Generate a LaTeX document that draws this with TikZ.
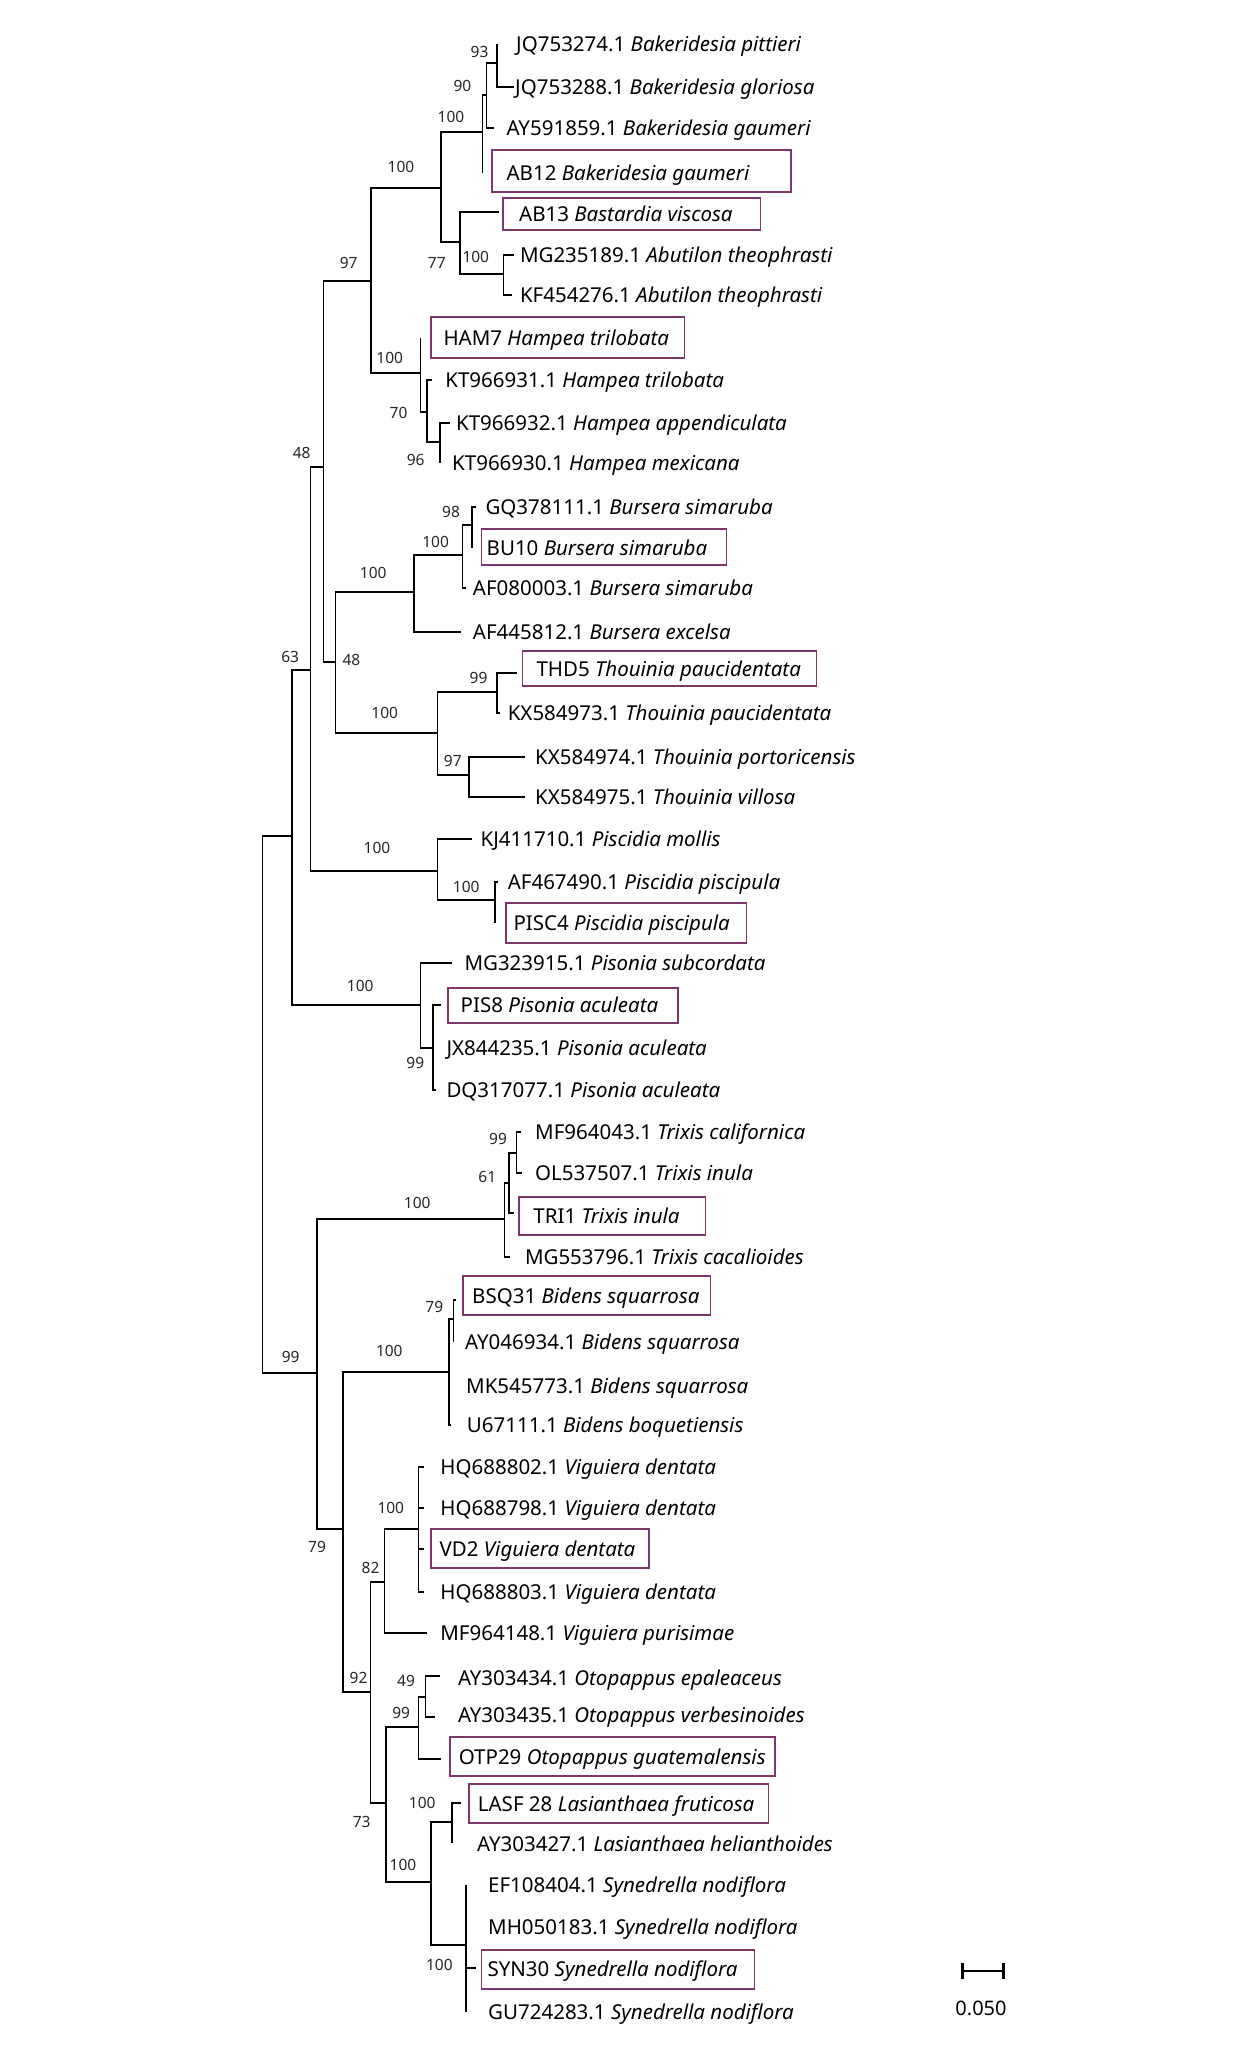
\documentclass[tikz,border=0pt]{standalone}
\usepackage{fontspec}
\setmainfont{Noto Sans}
\definecolor{boxc}{RGB}{125,55,105}
\begin{document}
\begin{tikzpicture}[x=1pt,y=-1pt,
  br/.style={line width=1.5pt},
  leaf/.style={anchor=base west,inner sep=0pt,font=\fontsize{20.5}{24}\selectfont},
  lab/.style={anchor=center,inner sep=0pt,font=\fontsize{15.5}{18}\selectfont,text=black!85},
  hbox/.style={draw=boxc,line width=1.8pt}]
\useasboundingbox (0,0) rectangle (1243,2048);
% internal nodes
\coordinate (R) at (262.5,1104);
\coordinate (N63) at (292,836);
\coordinate (N310) at (310.5,670);
\coordinate (N323) at (323.3,467);
\coordinate (NMalv) at (371,281);
\coordinate (NBak) at (441,188);
\coordinate (N452) at (482.3,132);
\coordinate (N90) at (486.5,95);
\coordinate (N93) at (496.8,63);
\coordinate (N77) at (460,242);
\coordinate (NAbu) at (503.7,274);
\coordinate (NHam) at (420.3,373);
\coordinate (N70) at (427.2,412);
\coordinate (N96) at (440.2,442);
\coordinate (NBT) at (335.5,662);
\coordinate (NBurs) at (413.8,592);
\coordinate (N462) at (462.4,555);
\coordinate (N98) at (472,525);
\coordinate (NThou) at (437.5,733);
\coordinate (N99t) at (496.8,692);
\coordinate (N97t) at (468.9,775);
\coordinate (NPisc) at (437.5,871);
\coordinate (N495) at (495,900);
\coordinate (NPison) at (420.3,1005);
\coordinate (N433) at (433,1048);
\coordinate (N99) at (317,1373);
\coordinate (NTrix) at (504.5,1219);
\coordinate (N61) at (509,1183);
\coordinate (N99x) at (516.7,1153);
\coordinate (N343) at (343,1529);
\coordinate (NBid) at (449,1372);
\coordinate (N79b) at (453.3,1319);
\coordinate (N92) at (370.5,1692);
\coordinate (N82) at (384.7,1582);
\coordinate (NVig) at (418.4,1529);
\coordinate (N73) at (385.9,1803);
\coordinate (NOto) at (418.4,1727);
\coordinate (N49) at (425.3,1697);
\coordinate (N431) at (431,1882);
\coordinate (NLas) at (452,1822);
\coordinate (NSyn) at (466.2,1945);
% tips
\coordinate (t1) at (496.8,44);
\coordinate (t2) at (514,87);
\coordinate (t3) at (494,128);
\coordinate (t4) at (482.3,173);
\coordinate (t5) at (498.7,212);
\coordinate (t6) at (514,255);
\coordinate (t7) at (512,295);
\coordinate (t8) at (420.3,338);
\coordinate (t9) at (431.8,380);
\coordinate (t10) at (449.8,423);
\coordinate (t11) at (440.2,463);
\coordinate (t12) at (476,507);
\coordinate (t13) at (472,548);
\coordinate (t14) at (466.2,588);
\coordinate (t15) at (460.5,632);
\coordinate (t16) at (516.7,673);
\coordinate (t17) at (499.5,713);
\coordinate (t18) at (524.8,757);
\coordinate (t19) at (524.8,797);
\coordinate (t20) at (472,839);
\coordinate (t21) at (498,882);
\coordinate (t22) at (495,923);
\coordinate (t23) at (452,963);
\coordinate (t24) at (441.3,1005);
\coordinate (t25) at (433,1048);
\coordinate (t26) at (436,1090);
\coordinate (t27) at (520.5,1132);
\coordinate (t28) at (521.7,1173);
\coordinate (t29) at (514,1213);
\coordinate (t30) at (510,1257);
\coordinate (t31) at (456,1300);
\coordinate (t32) at (453.3,1341.7);
\coordinate (t33) at (449,1386);
\coordinate (t34) at (451,1425);
\coordinate (t35) at (424.1,1467);
\coordinate (t36) at (424.1,1508);
\coordinate (t37) at (424.1,1549);
\coordinate (t38) at (424.1,1592);
\coordinate (t39) at (426.8,1633);
\coordinate (t40) at (440.2,1676);
\coordinate (t41) at (434.8,1717);
\coordinate (t42) at (441.3,1759);
\coordinate (t43) at (460.5,1803);
\coordinate (t44) at (452,1843);
\coordinate (t45) at (466.2,1885);
\coordinate (t46) at (466.2,1927);
\coordinate (t47) at (475.8,1968);
\coordinate (t48) at (466.2,2012);
% branches
\foreach \p/\c in {R/N63,R/N99,N63/N310,N63/NPison,N310/N323,N310/NPisc,
  N323/NMalv,N323/NBT,NMalv/NBak,NMalv/NHam,NBak/N452,NBak/N77,N452/N90,N452/t4,
  N90/N93,N90/t3,N93/t1,N93/t2,N77/t5,N77/NAbu,NAbu/t6,NAbu/t7,NHam/t8,NHam/N70,
  N70/t9,N70/N96,N96/t10,N96/t11,NBT/NBurs,NBT/NThou,NBurs/N462,NBurs/t15,
  N462/N98,N462/t14,N98/t12,N98/t13,NThou/N99t,NThou/N97t,N99t/t16,N99t/t17,
  N97t/t18,N97t/t19,NPisc/t20,NPisc/N495,N495/t21,N495/t22,NPison/t23,NPison/N433,
  N433/t24,N433/t25,N433/t26,N99/NTrix,N99/N343,NTrix/N61,NTrix/t30,N61/N99x,N61/t29,
  N99x/t27,N99x/t28,N343/NBid,N343/N92,NBid/N79b,NBid/t33,NBid/t34,N79b/t31,N79b/t32,
  N92/N82,N92/N73,N82/NVig,N82/t39,NVig/t35,NVig/t36,NVig/t37,NVig/t38,
  N73/NOto,N73/N431,NOto/N49,NOto/t42,N49/t40,N49/t41,N431/NLas,N431/NSyn,
  NLas/t43,NLas/t44,NSyn/t45,NSyn/t46,NSyn/t47,NSyn/t48}
  \draw[br] (\p) |- (\c);
% highlight boxes
\draw[hbox] (491.9,150) rectangle (791.1,192);
\draw[hbox] (502.6,198) rectangle (760.5,230);
\draw[hbox] (431,317) rectangle (684.4,358);
\draw[hbox] (481.5,529) rectangle (726.4,565);
\draw[hbox] (522.5,651) rectangle (816.4,686);
\draw[hbox] (505.6,903) rectangle (746.4,943);
\draw[hbox] (447.9,988) rectangle (677.8,1023);
\draw[hbox] (519,1197) rectangle (705.4,1235);
\draw[hbox] (463.2,1276) rectangle (710.4,1315);
\draw[hbox] (431,1529) rectangle (648.8,1568);
\draw[hbox] (449.8,1737) rectangle (775,1776);
\draw[hbox] (468.9,1784) rectangle (768.5,1823);
\draw[hbox] (481.5,1950) rectangle (754.4,1989);
% leaf labels
\node[leaf] (l1) at (516,51) {JQ753274.1 \textit{Bakeridesia pittieri}};
\node[leaf] (l2) at (515,94) {JQ753288.1 \textit{Bakeridesia gloriosa}};
\node[leaf] (l3) at (506.4,135) {AY591859.1 \textit{Bakeridesia gaumeri}};
\node[leaf] (l4) at (506.4,180) {AB12 \textit{Bakeridesia gaumeri}};
\node[leaf] (l5) at (519,221) {AB13 \textit{Bastardia viscosa}};
\node[leaf] (l6) at (519.8,262) {MG235189.1 \textit{Abutilon theophrasti}};
\node[leaf] (l7) at (519.8,302) {KF454276.1 \textit{Abutilon theophrasti}};
\node[leaf] (l8) at (443.3,345) {HAM7 \textit{Hampea trilobata}};
\node[leaf] (l9) at (445.2,387) {KT966931.1 \textit{Hampea trilobata}};
\node[leaf] (l10) at (455.9,430) {KT966932.1 \textit{Hampea appendiculata}};
\node[leaf] (l11) at (452,470) {KT966930.1 \textit{Hampea mexicana}};
\node[leaf] (l12) at (485.3,514) {GQ378111.1 \textit{Bursera simaruba}};
\node[leaf] (l13) at (486.5,555) {BU10 \textit{Bursera simaruba}};
\node[leaf] (l14) at (472.7,595) {AF080003.1 \textit{Bursera simaruba}};
\node[leaf] (l15) at (472.7,639) {AF445812.1 \textit{Bursera excelsa}};
\node[leaf] (l16) at (536.3,676) {THD5 \textit{Thouinia paucidentata}};
\node[leaf] (l17) at (507.6,720) {KX584973.1 \textit{Thouinia paucidentata}};
\node[leaf] (l18) at (535,764) {KX584974.1 \textit{Thouinia portoricensis}};
\node[leaf] (l19) at (535,804) {KX584975.1 \textit{Thouinia villosa}};
\node[leaf] (l20) at (480.4,846) {KJ411710.1 \textit{Piscidia mollis}};
\node[leaf] (l21) at (507.6,889) {AF467490.1 \textit{Piscidia piscipula}};
\node[leaf] (l22) at (513.3,930) {PISC4 \textit{Piscidia piscipula}};
\node[leaf] (l23) at (464.3,970) {MG323915.1 \textit{Pisonia subcordata}};
\node[leaf] (l24) at (460.5,1012) {PIS8 \textit{Pisonia aculeata}};
\node[leaf] (l25) at (446.3,1055) {JX844235.1 \textit{Pisonia aculeata}};
\node[leaf] (l26) at (446.3,1097) {DQ317077.1 \textit{Pisonia aculeata}};
\node[leaf] (l27) at (535,1139) {MF964043.1 \textit{Trixis californica}};
\node[leaf] (l28) at (535,1180) {OL537507.1 \textit{Trixis inula}};
\node[leaf] (l29) at (533.2,1223) {TRI1 \textit{Trixis inula}};
\node[leaf] (l30) at (524.8,1264) {MG553796.1 \textit{Trixis cacalioides}};
\node[leaf] (l31) at (472,1303) {BSQ31 \textit{Bidens squarrosa}};
\node[leaf] (l32) at (465,1349) {AY046934.1 \textit{Bidens squarrosa}};
\node[leaf] (l33) at (466,1393) {MK545773.1 \textit{Bidens squarrosa}};
\node[leaf] (l34) at (466.7,1432) {U67111.1 \textit{Bidens boquetiensis}};
\node[leaf] (l35) at (440.2,1474) {HQ688802.1 \textit{Viguiera dentata}};
\node[leaf] (l36) at (440.2,1515) {HQ688798.1 \textit{Viguiera dentata}};
\node[leaf] (l37) at (439.4,1556) {VD2 \textit{Viguiera dentata}};
\node[leaf] (l38) at (440.2,1599) {HQ688803.1 \textit{Viguiera dentata}};
\node[leaf] (l39) at (440.2,1640) {MF964148.1 \textit{Viguiera purisimae}};
\node[leaf] (l40) at (457.8,1685) {AY303434.1 \textit{Otopappus epaleaceus}};
\node[leaf] (l41) at (457.8,1722) {AY303435.1 \textit{Otopappus verbesinoides}};
\node[leaf] (l42) at (458.6,1764) {OTP29 \textit{Otopappus guatemalensis}};
\node[leaf] (l43) at (477.7,1811) {LASF 28 \textit{Lasianthaea fruticosa}};
\node[leaf] (l44) at (477,1851) {AY303427.1 \textit{Lasianthaea helianthoides}};
\node[leaf] (l45) at (488,1892) {EF108404.1 \textit{Synedrella nodiflora}};
\node[leaf] (l46) at (488,1934) {MH050183.1 \textit{Synedrella nodiflora}};
\node[leaf] (l47) at (487.3,1976) {SYN30 \textit{Synedrella nodiflora}};
\node[leaf] (l48) at (488,2019) {GU724283.1 \textit{Synedrella nodiflora}};
% bootstrap values
\node[lab] (b1) at (479.6,52) {93};
\node[lab] (b2) at (462.4,86) {90};
\node[lab] (b3) at (451,117) {100};
\node[lab] (b4) at (401,167) {100};
\node[lab] (b5) at (436.8,263) {77};
\node[lab] (b6) at (475.8,257) {100};
\node[lab] (b7) at (348.7,263) {97};
\node[lab] (b8) at (389.7,358) {100};
\node[lab] (b9) at (398.5,413) {70};
\node[lab] (b10) at (415.7,460) {96};
\node[lab] (b11) at (301.7,453) {48};
\node[lab] (b12) at (351.4,660) {48};
\node[lab] (b13) at (290.2,657) {63};
\node[lab] (b14) at (373.2,573) {100};
\node[lab] (b15) at (435.6,542) {100};
\node[lab] (b16) at (451,512) {98};
\node[lab] (b17) at (384.7,713) {100};
\node[lab] (b18) at (478.5,678) {99};
\node[lab] (b19) at (452.8,761) {97};
\node[lab] (b20) at (377,848) {100};
\node[lab] (b21) at (466.2,887) {100};
\node[lab] (b22) at (360.2,986) {100};
\node[lab] (b23) at (415.3,1063) {99};
\node[lab] (b24) at (417.2,1203) {100};
\node[lab] (b25) at (498,1139) {99};
\node[lab] (b26) at (487.3,1177) {61};
\node[lab] (b27) at (434.3,1306.7) {79};
\node[lab] (b28) at (389.3,1350.7) {100};
\node[lab] (b29) at (290.7,1357) {99};
\node[lab] (b30) at (317,1547) {79};
\node[lab] (b31) at (390.8,1508) {100};
\node[lab] (b32) at (370.5,1568) {82};
\node[lab] (b33) at (358.5,1678) {92};
\node[lab] (b34) at (361.7,1822) {73};
\node[lab] (b35) at (406.1,1681) {49};
\node[lab] (b36) at (401.2,1713) {99};
\node[lab] (b37) at (422.2,1803) {100};
\node[lab] (b38) at (403,1865) {100};
\node[lab] (b39) at (439.4,1965) {100};
% scale bar
\coordinate (sbL) at (962,1971);
\coordinate (sbR) at (1003,1971);
\draw[line width=1.5pt] (sbL) -- (sbR);
\draw[line width=3pt] ([yshift=-8pt]sbL) -- ([yshift=8pt]sbL);
\draw[line width=3pt] ([yshift=-8pt]sbR) -- ([yshift=8pt]sbR);
\node[anchor=center,inner sep=0pt,font=\fontsize{20}{24}\selectfont] (sbt) at (981,2008) {0.050};
\end{tikzpicture}
\end{document}
